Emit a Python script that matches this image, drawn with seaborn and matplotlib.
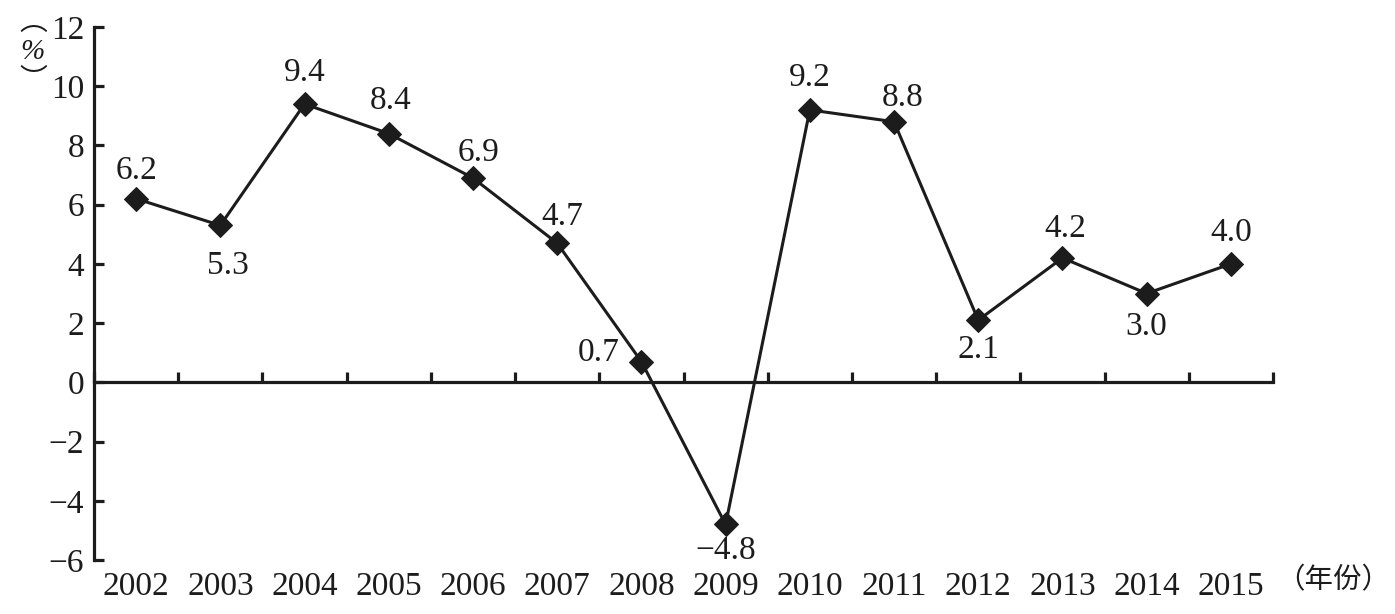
import matplotlib
matplotlib.use("Agg")
import matplotlib.pyplot as plt
import seaborn as sns
import numpy as np
import pandas as pd

years = ["2002", "2003", "2004", "2005", "2006", "2007", "2008",
         "2009", "2010", "2011", "2012", "2013", "2014", "2015"]
growth = [6.2, 5.3, 9.4, 8.4, 6.9, 4.7, 0.7, -4.8, 9.2, 8.8, 2.1, 4.2, 3.0, 4.0]
value_labels = ["6.2", "5.3", "9.4", "8.4", "6.9", "4.7", "0.7", "−4.8",
                "9.2", "8.8", "2.1", "4.2", "3.0", "4.0"]
y_ticks = [-6, -4, -2, 0, 2, 4, 6, 8, 10, 12]
y_ticklabels = ["−6", "−4", "−2", "0", "2", "4", "6", "8", "10", "12"]

# label offsets in pixels (dx, dy) relative to each point
offsets_px = [(0, 28), (8, -40), (0, 31), (2, 33), (6, 25), (5, 26), (-43, 9),
              (0, -26), (0, 32), (9, 24), (0, -30), (3, 29), (0, -33), (0, 31)]

sns.set_theme(style="white")
plt.rcParams['font.family'] = ['Liberation Serif', 'Noto Sans CJK SC', 'DejaVu Sans']
plt.rcParams['axes.unicode_minus'] = True

ink = "#1c1c1c"
fig = plt.figure(figsize=(13.95, 6.14), dpi=100)
ax = fig.add_axes([94 / 1395, 1 - 560 / 614, (1273 - 94) / 1395, (560 - 27) / 614])

df = pd.DataFrame({"pos": np.arange(len(years)), "growth": growth})
sns.lineplot(data=df, x="pos", y="growth", ax=ax, color=ink, linewidth=2.2,
             marker="D", markersize=12.5, markeredgecolor=ink, markerfacecolor=ink)

ax.set_xlim(-0.5, len(years) - 0.5)
ax.set_ylim(-6, 12)
ax.set_xlabel("")
ax.set_ylabel("")

for sp in ["top", "right", "bottom"]:
    ax.spines[sp].set_visible(False)
ax.spines["left"].set_linewidth(2.3)
ax.spines["left"].set_color(ink)

fs = 24
ax.set_yticks(y_ticks)
ax.set_yticklabels(y_ticklabels)
ax.tick_params(axis="y", direction="in", length=7, width=2.3, color=ink,
               labelsize=fs, labelcolor=ink, pad=7, left=True)
ax.set_xticks(np.arange(len(years)))
ax.set_xticklabels(years)
ax.tick_params(axis="x", length=0, labelsize=fs, labelcolor=ink, pad=8)

# zero axis line with category boundary ticks
sec = ax.secondary_xaxis(1 / 3)
sec.set_xticks(np.arange(len(years) + 1) - 0.5)
sec.set_xticklabels([])
sec.spines["bottom"].set_linewidth(2.3)
sec.spines["bottom"].set_color(ink)
sec.tick_params(axis="x", direction="in", length=7, width=2.3, color=ink)

for i, (v, lab) in enumerate(zip(growth, value_labels)):
    dx, dy = offsets_px[i]
    ax.annotate(lab, (i, v), xytext=(dx * 0.72, dy * 0.72), textcoords="offset points",
                ha="center", va="center", fontsize=fs, color=ink)

# vertical unit label "（%）"
fig.text(33 / 1395, 1 - 22 / 614, "︵", ha="center", va="center",
         fontsize=20, color=ink, family=['Noto Sans CJK SC'])
fig.text(32 / 1395, 1 - 52 / 614, "%", style="italic", ha="center", va="center",
         fontsize=21, color=ink)
fig.text(33 / 1395, 1 - 80 / 614, "︶", ha="center", va="center",
         fontsize=20, color=ink, family=['Noto Sans CJK SC'])
fig.text(1276 / 1395, 1 - 580 / 614, "（年份）", ha="left", va="center",
         fontsize=20.5, color=ink, family=['Noto Sans CJK SC', 'DejaVu Sans'])

fig.savefig("out.png", dpi=100)
